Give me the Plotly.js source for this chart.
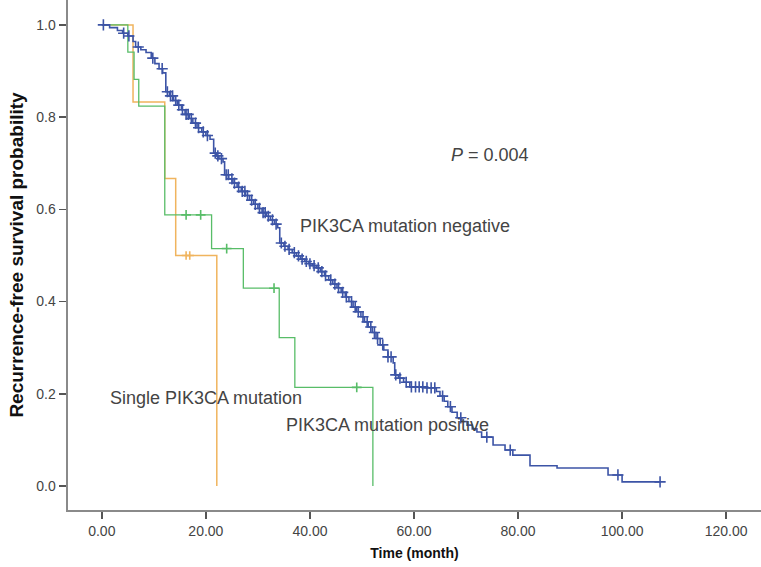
<!DOCTYPE html>
<html>
<head>
<meta charset="utf-8">
<script src="https://cdn.plot.ly/plotly-3.0.1.min.js"></script>
<style>html,body{margin:0;padding:0;background:#fff;}#chart{width:761px;height:567px;}</style>
</head>
<body>
<div id="chart"></div>
<script>
// Blue: PIK3CA mutation negative (event times, survival after each step)
var negTimes = [0, 1.5, 3, 4, 5, 6, 6.5, 7.5, 8.5, 9.5, 10.2, 11, 11.7, 12.3,
  13, 13.8, 14.5, 15.3, 16, 16.8, 17.5, 18.3, 19.2, 20, 20.8, 21.5, 22, 22.5, 23.3, 23.6,
  24.4, 25.2, 26, 26.8, 27.6, 28.4, 29.2, 30, 30.8, 31.6, 32.4, 33.2, 33.8, 34.2,
  35, 35.8, 36.6, 37.4, 38.2, 39, 39.8, 40.5, 41.3, 42, 42.8, 43.6, 44.4, 45.2, 46, 46.8, 47.5, 48.3,
  49, 49.8, 50.5, 51.2, 52, 52.7, 53.5, 54.2, 55, 56, 56.3, 57, 58, 59.2, 62,
  64.3, 65, 65.8, 66.5, 67.3, 68.3, 69.2, 70.2, 71.2, 72.1, 73, 75.2, 77.5, 79, 82.3, 87.5, 97.3, 100];
var negSurv = [1.0, 0.994, 0.988, 0.982, 0.976, 0.964, 0.952, 0.946, 0.94, 0.928, 0.916, 0.905, 0.896, 0.855,
  0.846, 0.836, 0.826, 0.816, 0.806, 0.797, 0.787, 0.777, 0.768, 0.76, 0.752, 0.722, 0.716, 0.71, 0.703, 0.675,
  0.666, 0.657, 0.648, 0.639, 0.63, 0.62, 0.611, 0.602, 0.593, 0.585, 0.577, 0.568, 0.56, 0.527,
  0.52, 0.513, 0.506, 0.499, 0.492, 0.487, 0.482, 0.478, 0.473, 0.465, 0.456, 0.447, 0.438, 0.43, 0.42, 0.41, 0.4, 0.388,
  0.378, 0.367, 0.356, 0.345, 0.333, 0.32, 0.306, 0.295, 0.28, 0.267, 0.241, 0.234, 0.225, 0.215, 0.213,
  0.205, 0.195, 0.184, 0.172, 0.16, 0.148, 0.14, 0.132, 0.124, 0.117, 0.106, 0.089, 0.078, 0.067, 0.044, 0.039, 0.024, 0.009];
var negEnd = 107.3;
var negCensor = [0.3, 4.2, 5.2, 7, 9.8, 11.6, 12.6, 13.2, 13.6, 14.2, 14.8, 15.5, 16.2, 16.6, 17.2, 18, 18.6, 19.5, 20.3,
  21.8, 22.3, 23, 23.9, 24.3, 25, 25.5, 26.3, 27, 27.5, 28, 28.8, 29.5, 30.3, 31, 31.4, 32, 32.8, 33.5,
  34.5, 35.2, 36, 37, 37.8, 38.5, 39.3, 40, 40.8, 41.6, 42.3, 43, 44, 44.8, 45.5, 46.3, 47, 48, 48.7,
  49.3, 50.2, 51, 51.7, 52.4, 53, 54, 55, 55.6, 56.5, 57.3, 58.5, 59.5, 60.3, 61, 61.7, 62.5, 63.3,
  64, 65.5, 67, 69, 74, 78.5, 99.2, 107.3];

// Green: PIK3CA mutation positive
var posTimes = [0, 5, 6.2, 7.1, 12.1, 21.1, 27.2, 34.1, 37.1, 52.1];
var posSurv = [1.0, 0.941, 0.882, 0.824, 0.588, 0.515, 0.429, 0.322, 0.214, 0.0];
var posCensor = [16.2, 19.0, 24.0, 33.1, 49.0];

// Orange: Single PIK3CA mutation
var sglTimes = [0, 6.0, 12.1, 14.2, 22.1];
var sglSurv = [1.0, 0.833, 0.667, 0.5, 0.0];
var sglCensor = [16.2, 16.9];

var xTicks = [0, 20, 40, 60, 80, 100, 120];
var yTicks = [0, 0.2, 0.4, 0.6, 0.8, 1.0];

var colNeg = '#3c54a6', colPos = '#58bd68', colSgl = '#f0b45e';

function stepLine(times, surv, endT) {
  var x = times.slice(), y = surv.slice();
  if (endT !== undefined) { x.push(endT); y.push(surv[surv.length - 1]); }
  return {x: x, y: y};
}
function survAt(times, surv, t) {
  var s = surv[0];
  for (var i = 0; i < times.length; i++) { if (times[i] <= t) s = surv[i]; }
  return s;
}
function censorTrace(times, surv, cens, col, size) {
  return {x: cens, y: cens.map(function (t) { return survAt(times, surv, t); }),
    mode: 'markers', type: 'scatter', hoverinfo: 'skip', showlegend: false,
    marker: {symbol: 'cross-thin', size: size, color: col, line: {color: col, width: 1.6}}};
}

var nl = stepLine(negTimes, negSurv, negEnd);
var pl = stepLine(posTimes, posSurv);
var sl = stepLine(sglTimes, sglSurv);

var traces = [
  {x: sl.x, y: sl.y, mode: 'lines', type: 'scatter', line: {shape: 'hv', color: colSgl, width: 1.5}, showlegend: false},
  censorTrace(sglTimes, sglSurv, sglCensor, colSgl, 6),
  {x: pl.x, y: pl.y, mode: 'lines', type: 'scatter', line: {shape: 'hv', color: colPos, width: 1.3}, showlegend: false},
  censorTrace(posTimes, posSurv, posCensor, colPos, 7),
  {x: nl.x, y: nl.y, mode: 'lines', type: 'scatter', line: {shape: 'hv', color: colNeg, width: 1.6}, showlegend: false},
  censorTrace(negTimes, negSurv, negCensor, colNeg, 8)
];

var txtFont = {family: 'Liberation Sans, Arial, sans-serif', size: 18, color: '#444'};
var layout = {
  width: 761, height: 567,
  margin: {l: 68, r: 0, t: 0, b: 57},
  paper_bgcolor: '#fff', plot_bgcolor: '#fff',
  font: {family: 'Liberation Sans, Arial, sans-serif', color: '#444'},
  xaxis: {range: [-6.5, 126.7], tickvals: xTicks, ticktext: xTicks.map(function (v) { return v.toFixed(2); }),
    showgrid: false, zeroline: false, showline: true, linecolor: '#8a8a8a', linewidth: 2,
    ticks: 'outside', ticklen: 7, tickcolor: '#555', tickwidth: 1.5,
    tickfont: {size: 14, color: '#444'},
    title: {text: '<b>Time (month)</b>', font: {size: 14, color: '#111'}, standoff: 10}},
  yaxis: {range: [-0.052, 1.054], tickvals: yTicks, ticktext: yTicks.map(function (v) { return v.toFixed(1); }),
    showgrid: false, zeroline: false, showline: true, linecolor: '#8a8a8a', linewidth: 2.5,
    ticks: 'outside', ticklen: 7, tickcolor: '#555', tickwidth: 1.5,
    tickfont: {size: 14, color: '#444'},
    title: {text: '<b>Recurrence-free survival probability</b>', font: {size: 19, color: '#111'}, standoff: 8}},
  annotations: [
    {x: 74.6, y: 0.718, text: '<i>P</i> = 0.004', showarrow: false, xanchor: 'center', yanchor: 'middle', font: txtFont},
    {x: 37.7, y: 0.564, text: 'PIK3CA mutation negative', showarrow: false, xanchor: 'left', yanchor: 'middle', font: txtFont},
    {x: 1.15, y: 0.191, text: 'Single PIK3CA mutation', showarrow: false, xanchor: 'left', yanchor: 'middle', font: txtFont},
    {x: 35.0, y: 0.132, text: 'PIK3CA mutation positive', showarrow: false, xanchor: 'left', yanchor: 'middle', font: txtFont}
  ]
};
Plotly.newPlot('chart', traces, layout, {displayModeBar: false, staticPlot: true});
</script>
</body>
</html>
